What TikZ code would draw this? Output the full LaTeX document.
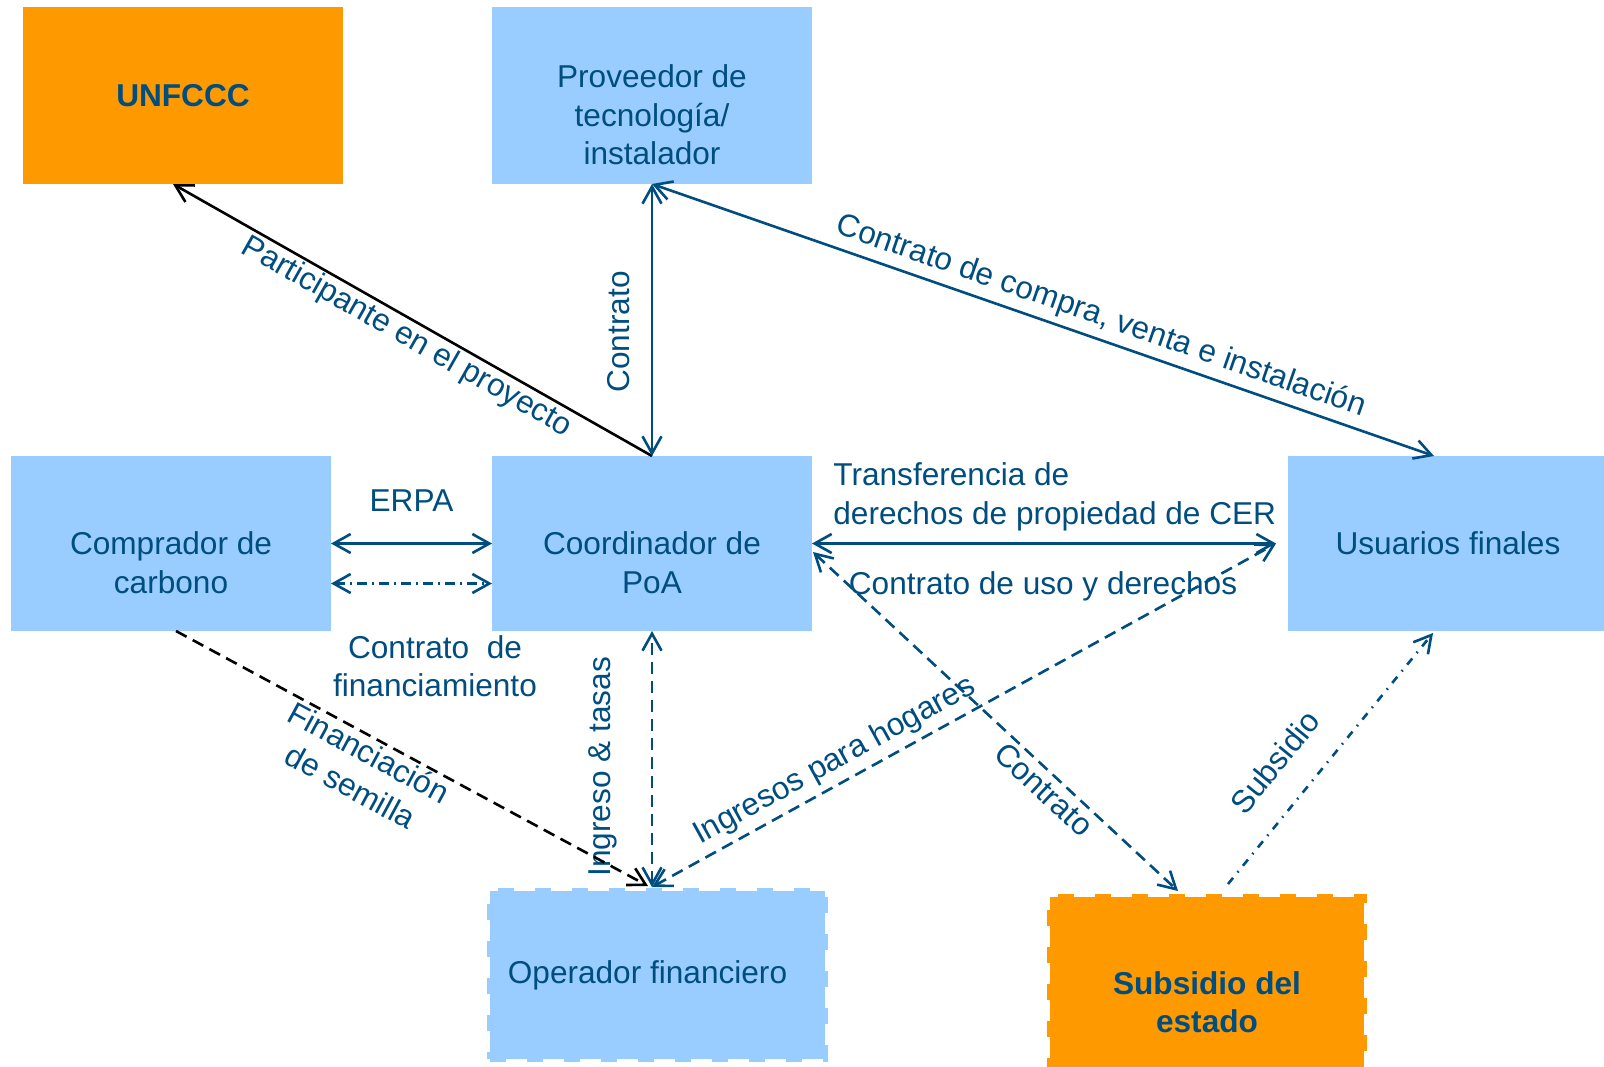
\documentclass[tikz,border=0pt]{standalone}
\usepackage{fontspec}
\setmainfont{Liberation Sans}
\usetikzlibrary{arrows.meta,calc}
\definecolor{tblue}{RGB}{0,77,128}
\definecolor{lblue}{RGB}{153,204,255}
\definecolor{orng}{RGB}{255,153,0}
\newcommand{\topgap}{\rule{0pt}{11.5pt}}
\begin{document}
\begin{tikzpicture}[x=0.5pt,y=-0.5pt,
  font=\fontsize{15.8pt}{19.2pt}\selectfont,
  >={Straight Barb[length=8.5pt,width=9.5pt]},
  box/.style={fill=lblue, text=tblue, align=center, minimum width=160pt,
    minimum height=87.5pt, inner sep=0pt, outer sep=0pt},
  obox/.style={box, fill=orng, font=\fontsize{15.8pt}{19.2pt}\selectfont\bfseries},
  dbox/.style={draw=#1, line width=3pt, dash pattern=on 8pt off 10.5pt},
  lbl/.style={text=tblue, inner sep=1pt},
  conn/.style={draw=tblue, line width=1.3pt},
  bconn/.style={draw=black, line width=1.3pt},
  dsh/.style={dash pattern=on 6pt off 3.5pt},
  dshdot/.style={dash pattern=on 5pt off 2.5pt on 1pt off 2.5pt},
  dshdotb/.style={dash pattern=on 4pt off 3.5pt on 0.8pt off 3.5pt}]
\fill[white] (0,0) rectangle (1604,1066);
\useasboundingbox (0,0) rectangle (1604,1066);

% boxes
\node[obox, minimum height=88.5pt] (unf) at (183,95.5) {UNFCCC};
\node[box, minimum height=88.5pt] (prov) at (652,95.5) {\topgap\\Proveedor de\\tecnología/\\instalador};
\node[box] (comp) at (171,543.5) {\topgap\\Comprador de\\carbono};
\node[box] (coord) at (652,543.5) {\topgap\\Coordinador de\\PoA};
\node[box] (usu) at (1448,543.5) {Usuarios finales};
\node[box, dbox=lblue, minimum width=167.5pt, minimum height=84pt] (op) at (657.5,975) {\hspace*{-10pt}Operador financiero};
\node[obox, dbox=orng, minimum width=157pt, minimum height=105pt] (sub) at (1207,1002) {Subsidio del\\estado};

% connector end points
\coordinate (unfIn) at ($(unf.south)+(-10,0)$);
\coordinate (usuIn) at ($(usu.north)+(-14,0)$);
\coordinate (cerEnd) at ($(usu.west)+(-12,0)$);
\coordinate (opTop) at ($(op.north)+(-5.5,-4)$);
\coordinate (coordSE) at ($(coord.east)+(1,8.5)$);
\coordinate (subIn) at ($(sub.north)+(-29,-6)$);
\coordinate (subOut) at ($(sub.north)+(21,-13)$);
\coordinate (usuBot) at ($(usu.south)+(-15,2)$);
\coordinate (compOut) at ($(comp.south)+(5,0)$);

% connectors
\draw[bconn, ->] (coord.north) -- node[lbl, sloped, below=0pt, pos=0.494] (lpart) {Participante en el proyecto} (unfIn);
\draw[conn, <->] (coord.north) -- node[lbl, sloped, above=9.5pt, pos=0.456] (lcon1) {Contrato} (prov.south);
\draw[conn, <->] (prov.south) -- node[lbl, sloped, above=2pt, pos=0.565] (lcompra) {Contrato de compra, venta e instalación} (usuIn);
\draw[conn, <->] (comp.east) -- node[lbl, above=14.5pt] (lerpa) {ERPA} (coord.west);
\draw[conn, <->, dshdot] ($(comp.east)+(0,40)$) -- ($(coord.west)+(0,40)$);
\node[lbl, align=center] (lfinanc) at (435,666) {Contrato\ \ de\\financiamiento};
\draw[conn, <->] (coord.east) -- (cerEnd);
\node[lbl, align=left, anchor=west] (ltrans) at (831,497) {Transferencia de\\derechos de propiedad de CER};
\draw[conn, <->, dsh] (opTop) -- node[lbl, sloped, above=2pt, pos=0.31] (lhog) {Ingresos para hogares} (cerEnd);
\node[lbl] (luso) at (1043,586) {Contrato de uso y derechos};
\draw[conn, <->, dsh] (coordSE) -- node[lbl, sloped, below=1.2pt, pos=0.664] (lcon2) {Contrato} (subIn);
\draw[conn, ->, dshdotb] (subOut) -- node[lbl, sloped, above=13pt, pos=0.383] (lsub) {Subsidio} (usuBot);
\draw[conn, <->, dsh] (opTop) -- node[lbl, sloped, above=16pt, pos=0.47] (ltasas) {Ingreso \& tasas} (coord.south);
\draw[bconn, ->, dsh] (compOut) -- node[lbl, sloped, below=0pt, pos=0.424, align=center] (lsemilla) {Financiación\\de semilla} ($(opTop)+(-4,-1)$);
\end{tikzpicture}
\end{document}
